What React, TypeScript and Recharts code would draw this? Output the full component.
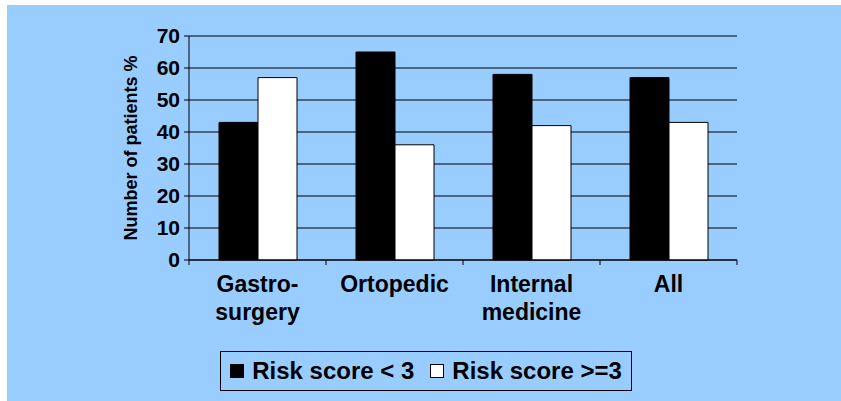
import { BarChart, Bar, XAxis, YAxis, CartesianGrid, Legend, Label } from 'recharts';

const CATEGORIES = ['Gastro-\nsurgery', 'Ortopedic', 'Internal\nmedicine', 'All'];
const RISK_LOW = [43, 65, 58, 57];
const RISK_HIGH = [57, 36, 42, 43];
const Y_TICKS = [0, 10, 20, 30, 40, 50, 60, 70];

const SERIES_NAMES = { low: 'Risk score < 3', high: 'Risk score >=3' };

const data = CATEGORIES.map((category, i) => ({
  category,
  low: RISK_LOW[i],
  high: RISK_HIGH[i],
}));

const FONT = '"Liberation Sans", Arial, sans-serif';

const CategoryTick = (props: any) => {
  const { x, y, payload, width, visibleTicksCount, index } = props;
  const count = visibleTicksCount || CATEGORIES.length;
  const step = (width || 548) / count;
  const lines = String(payload.value).split('\n');
  return (
    <g>
      <line x1={x - step / 2} x2={x - step / 2} y1={y} y2={y + 5} stroke="#000" />
      {index === count - 1 && <line x1={x + step / 2} x2={x + step / 2} y1={y} y2={y + 5} stroke="#000" />}
      <text x={x} y={y + 32} textAnchor="middle" fill="#000" fontFamily={FONT} fontWeight="bold" fontSize={23}>
        {lines.map((l, i) => (
          <tspan key={i} x={x} dy={i === 0 ? 0 : 28}>{l}</tspan>
        ))}
      </text>
    </g>
  );
};

const YLabel = ({ viewBox }: any) => {
  const cx = viewBox.x + viewBox.width - 58;
  const cy = viewBox.y + viewBox.height / 2;
  return (
    <text
      x={cx}
      y={cy}
      transform={`rotate(-90, ${cx}, ${cy})`}
      textAnchor="middle"
      dominantBaseline="central"
      fontFamily={FONT}
      fontWeight="bold"
      fontSize={18}
      fill="#000"
    >
      Number of patients %
    </text>
  );
};

const LegendBox = ({ payload }: any) => (
  <div
    style={{
      border: '1px solid #000',
      height: 40,
      boxSizing: 'border-box',
      display: 'flex',
      alignItems: 'center',
      justifyContent: 'center',
      gap: 16,
      fontFamily: FONT,
      fontWeight: 'bold',
      fontSize: 24,
      color: '#000',
    }}
  >
    {(payload || []).map((p: any) => (
      <div key={p.dataKey} style={{ display: 'flex', alignItems: 'center' }}>
        <span
          style={{
            width: 14,
            height: 14,
            background: p.dataKey === 'low' ? '#000' : '#fff',
            border: '1px solid #000',
            boxSizing: 'border-box',
            marginRight: 8,
            display: 'inline-block',
          }}
        />
        <span>{p.value}</span>
      </div>
    ))}
  </div>
);

export default function App() {
  return (
    <div style={{ position: 'absolute', left: 0, top: 0, width: 841, height: 401, background: '#fff' }}>
      <div style={{ position: 'absolute', left: 7, top: 5, width: 834, height: 396, background: '#99CCFF' }}>
        <BarChart
          width={834}
          height={396}
          data={data}
          margin={{ top: 31, right: 104, bottom: 111, left: 0 }}
          barGap={0}
        >
          <CartesianGrid vertical={false} stroke="#000" />
          <XAxis
            dataKey="category"
            tick={<CategoryTick />}
            tickLine={false}
            tickSize={0}
            tickMargin={0}
            interval={0}
            height={30}
            axisLine={{ stroke: '#000' }}
          />
          <XAxis
            xAxisId="top"
            orientation="top"
            dataKey="category"
            tick={false}
            tickLine={false}
            height={0}
            axisLine={{ stroke: '#808080' }}
          />
          <YAxis
            width={182}
            domain={[0, 70]}
            ticks={Y_TICKS}
            interval={0}
            tickSize={5}
            tickMargin={4}
            axisLine={{ stroke: '#000' }}
            tickLine={{ stroke: '#000' }}
            tick={{ fill: '#000', fontSize: 21, fontWeight: 'bold', fontFamily: FONT }}
          >
            <Label content={<YLabel />} />
          </YAxis>
          <YAxis
            yAxisId="right"
            orientation="right"
            width={0}
            domain={[0, 70]}
            tick={false}
            tickLine={false}
            axisLine={{ stroke: '#808080' }}
          />
          <Bar dataKey="low" name={SERIES_NAMES.low} fill="#000" stroke="#000" barSize={39} isAnimationActive={false} />
          <Bar dataKey="high" name={SERIES_NAMES.high} fill="#fff" stroke="#000" barSize={39} isAnimationActive={false} />
          <Legend
            layout="horizontal"
            verticalAlign="middle"
            align="center"
            content={<LegendBox />}
            wrapperStyle={{ left: 213, top: 346, width: 412, height: 40 }}
          />
        </BarChart>
      </div>
    </div>
  );
}
